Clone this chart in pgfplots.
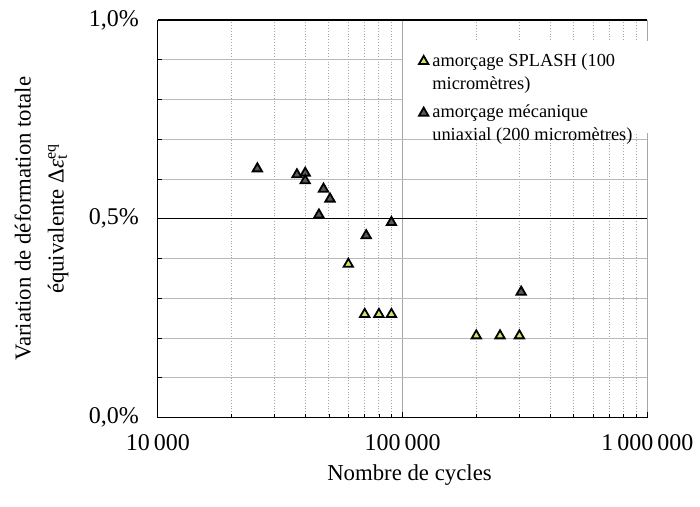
\documentclass[border=0pt]{standalone}
\usepackage{pgfplots}
\pgfplotsset{compat=1.18}
\usepackage{fontspec}
\setmainfont{Liberation Serif}
\definecolor{splash}{RGB}{214,226,96}
\definecolor{meca}{RGB}{88,88,98}

\begin{document}
\begin{tikzpicture}
\begin{axis}[
  scale only axis, width=245pt, height=199pt,
  xmode=log, xmin=1e4, xmax=1e6,
  ymin=0, ymax=1.0,
  axis x line*=bottom, axis y line*=left,
  axis line style={black, line width=0.6pt},
  xtick={1e4,1e5,1e6},
  xticklabels={10\,000,100\,000,1\,000\,000},
  ytick={0,0.5,1},
  yticklabels={{0,0\%},{0,5\%},{1,0\%}},
  minor ytick={0.1,0.2,0.3,0.4,0.6,0.7,0.8,0.9},
  tick align=inside,
  major tick length=3pt, minor tick length=2pt,
  tick style={black, line width=0.4pt},
  grid=both,
  major x grid style={gray!70, line width=0.5pt},
  minor x grid style={gray!70, densely dotted, line width=0.5pt},
  major y grid style={black, line width=0.6pt},
  minor y grid style={gray!55, line width=0.5pt},
  tick label style={font=\fontsize{12}{14}\selectfont},
  xticklabel style={yshift=-5pt},
  yticklabel style={xshift=-6pt},
  every axis x label/.style={at={(rel axis cs:0.514,-0.145)}, anchor=center},
  every axis y label/.style={at={(rel axis cs:-0.2378,0.5)}, rotate=90, anchor=center},
  xlabel={Nombre de cycles},
  ylabel={Variation de déformation totale\\équivalente Δ{\itshape ε}\rlap{\textsubscript{t}}\textsuperscript{eq}},
  label style={font=\fontsize{11.4}{16.5}\selectfont, align=center},
  legend style={at={(rel axis cs:0.5,0.947)}, anchor=north west, draw=none, fill=white,
    font=\fontsize{9.2}{11.5}\selectfont, row sep=14pt, inner xsep=8pt, inner ysep=4pt},
  legend cell align=left,
  legend image code/.code={\draw[#1, mark repeat=2, mark phase=2] plot coordinates {(0cm,0cm) (0.15cm,0cm) (0.3cm,0cm)};},
  mark size=2.7pt,
]
\addplot[only marks, mark=triangle*, mark options={fill=splash, draw=black, line width=0.9pt}]
  coordinates {(60000,0.386) (70000,0.26) (80000,0.26) (90000,0.26)
               (200000,0.206) (250000,0.206) (300000,0.206)};
\addlegendentry{\parbox[t]{102pt}{amorçage SPLASH (100\\micromètres)}}
\addplot[only marks, mark=triangle*, mark options={fill=meca, draw=black, line width=0.9pt}]
  coordinates {(25500,0.626) (37000,0.611) (40000,0.615) (40000,0.596)
               (47500,0.575) (50500,0.550) (45500,0.510) (71000,0.458)
               (90000,0.491) (305000,0.316)};
\addlegendentry{\parbox[t]{102pt}{amorçage mécanique\\uniaxial (200 micromètres)}}
\end{axis}
\path (current axis.south west) ++(-79pt,-44.5pt) coordinate (bl);
\path (current axis.north east) ++(26pt,10pt) coordinate (tr);
\path (bl) rectangle (tr);
\end{tikzpicture}
\end{document}
